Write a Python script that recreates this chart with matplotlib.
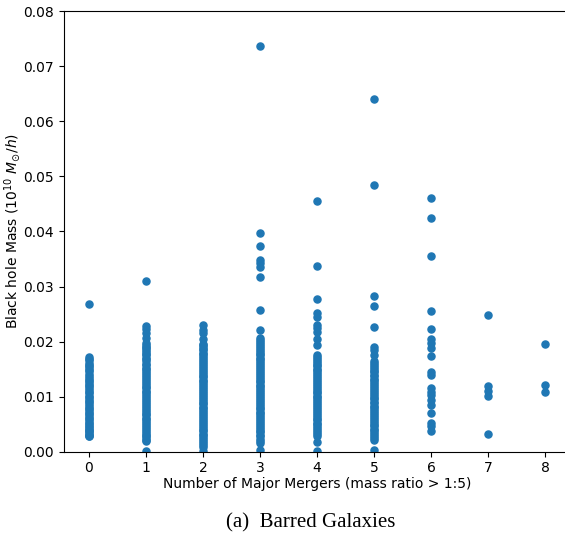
import numpy as np
import matplotlib
matplotlib.use('Agg')
from matplotlib import pyplot as plt

# black hole masses (1e10 Msun/h) per number of major mergers
m0 = [0.0268, 0.0172, 0.0169, 0.0166, 0.0162, 0.0158, 0.0155, 0.0152, 0.0149, 0.0146,
      0.0142, 0.0138, 0.0134, 0.0131, 0.0128, 0.0125, 0.0122, 0.0119, 0.0115, 0.0112,
      0.0109, 0.0106, 0.0102, 0.0099, 0.0096, 0.0093, 0.0090, 0.0087, 0.0083, 0.0080,
      0.0077, 0.0074, 0.0071, 0.0068, 0.0065, 0.0062, 0.0059, 0.0056, 0.0053, 0.0050,
      0.0047, 0.0045, 0.0042, 0.0040, 0.0037, 0.0035, 0.0033, 0.0031, 0.0029, 0.0028]
m1 = [0.0310, 0.0229, 0.0223, 0.0215, 0.0207, 0.0197, 0.0194, 0.0191, 0.0188, 0.0185,
      0.0181, 0.0178, 0.0175, 0.0171, 0.0168, 0.0164, 0.0160, 0.0157, 0.0153, 0.0150,
      0.0146, 0.0143, 0.0139, 0.0136, 0.0132, 0.0129, 0.0125, 0.0122, 0.0118, 0.0115,
      0.0111, 0.0108, 0.0104, 0.0101, 0.0097, 0.0094, 0.0090, 0.0087, 0.0083, 0.0080,
      0.0076, 0.0073, 0.0069, 0.0066, 0.0062, 0.0059, 0.0055, 0.0052, 0.0048, 0.0045,
      0.0041, 0.0038, 0.0034, 0.0031, 0.0028, 0.0025, 0.0022, 0.0020, 0.0002]
m2 = [0.0230, 0.0222, 0.0215, 0.0205, 0.0196, 0.0193, 0.0190, 0.0187, 0.0184, 0.0180,
      0.0177, 0.0173, 0.0170, 0.0166, 0.0163, 0.0159, 0.0156, 0.0152, 0.0149, 0.0145,
      0.0142, 0.0138, 0.0135, 0.0131, 0.0128, 0.0124, 0.0121, 0.0117, 0.0114, 0.0110,
      0.0107, 0.0103, 0.0100, 0.0096, 0.0093, 0.0089, 0.0086, 0.0082, 0.0079, 0.0075,
      0.0072, 0.0068, 0.0065, 0.0061, 0.0058, 0.0054, 0.0051, 0.0047, 0.0044, 0.0040,
      0.0037, 0.0033, 0.0030, 0.0026, 0.0023, 0.0019, 0.0016, 0.0012, 0.0009, 0.0002]
m3 = [0.0737, 0.0398, 0.0374, 0.0348, 0.0343, 0.0336, 0.0318, 0.0258, 0.0221, 0.0206,
      0.0203, 0.0199, 0.0196, 0.0192, 0.0189, 0.0185, 0.0182, 0.0178, 0.0175, 0.0171,
      0.0168, 0.0164, 0.0161, 0.0157, 0.0154, 0.0150, 0.0147, 0.0143, 0.0140, 0.0136,
      0.0133, 0.0129, 0.0126, 0.0122, 0.0119, 0.0115, 0.0112, 0.0108, 0.0105, 0.0101,
      0.0098, 0.0094, 0.0091, 0.0087, 0.0084, 0.0080, 0.0077, 0.0073, 0.0070, 0.0066,
      0.0063, 0.0059, 0.0056, 0.0052, 0.0049, 0.0045, 0.0042, 0.0038, 0.0035, 0.0031,
      0.0028, 0.0024, 0.0020, 0.0016, 0.0004]
m4 = [0.0455, 0.0337, 0.0278, 0.0252, 0.0245, 0.0230, 0.0224, 0.0218, 0.0204, 0.0194,
      0.0176, 0.0172, 0.0169, 0.0165, 0.0162, 0.0158, 0.0155, 0.0151, 0.0148, 0.0144,
      0.0141, 0.0137, 0.0134, 0.0130, 0.0127, 0.0123, 0.0120, 0.0116, 0.0113, 0.0109,
      0.0106, 0.0102, 0.0099, 0.0095, 0.0092, 0.0088, 0.0085, 0.0081, 0.0078, 0.0074,
      0.0071, 0.0067, 0.0064, 0.0060, 0.0057, 0.0053, 0.0050, 0.0046, 0.0043, 0.0039,
      0.0036, 0.0032, 0.0029, 0.0017, 0.0002]
m5 = [0.0640, 0.0484, 0.0282, 0.0265, 0.0227, 0.0191, 0.0185, 0.0175, 0.0164, 0.0161,
      0.0158, 0.0154, 0.0151, 0.0147, 0.0144, 0.0140, 0.0137, 0.0133, 0.0130, 0.0126,
      0.0123, 0.0119, 0.0116, 0.0112, 0.0109, 0.0105, 0.0102, 0.0098, 0.0095, 0.0091,
      0.0088, 0.0084, 0.0081, 0.0077, 0.0074, 0.0070, 0.0067, 0.0063, 0.0060, 0.0056,
      0.0053, 0.0049, 0.0046, 0.0042, 0.0039, 0.0035, 0.0032, 0.0028, 0.0025, 0.0022,
      0.0003]
m6 = [0.0461, 0.0424, 0.0356, 0.0255, 0.0223, 0.0204, 0.0197, 0.0188, 0.0173, 0.0144,
      0.0140, 0.0116, 0.0109, 0.0103, 0.0094, 0.0085, 0.0070, 0.0052, 0.0046, 0.0037]
m7 = [0.0249, 0.0120, 0.0111, 0.0102, 0.0033]
m8 = [0.0195, 0.0122, 0.0108]
masses = [m0, m1, m2, m3, m4, m5, m6, m7, m8]

x = []
y = []
for n, m in enumerate(masses):
    x += [n] * len(m)
    y += m

fig = plt.figure(figsize=(5.65, 5.34), dpi=100)
# axes runs a little past the right edge, as in the cropped original
ax = fig.add_axes([0.113, 0.154, 0.896, 0.825])
ax.scatter(x, y, s=26, color='#1f77b4')
ax.set_xlim(-0.44, 8.44)
ax.set_ylim(0, 0.08)
ax.set_xticks(range(9))
ax.tick_params(labelsize=10)
ax.set_xlabel('Number of Major Mergers (mass ratio > 1:5)', fontsize=10, labelpad=1)
ax.set_ylabel(r'Black hole Mass ($10^{10}\ M_{\odot}/h$)', fontsize=10)
ax.yaxis.set_label_coords(-0.081, 0.5)
fig.text(0.55, 0.012, '(a)  Barred Galaxies', fontsize=15, family='Liberation Serif',
         ha='center', va='baseline')
fig.savefig('out.png', dpi=100)
